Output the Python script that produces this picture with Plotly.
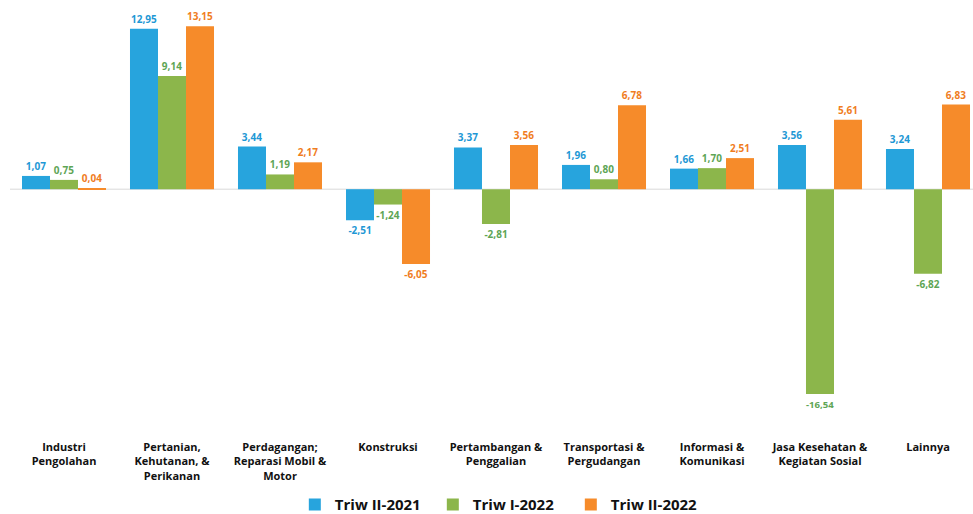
import plotly.graph_objects as go

categories = [
    "Industri<br>Pengolahan",
    "Pertanian,<br>Kehutanan, &<br>Perikanan",
    "Perdagangan;<br>Reparasi Mobil &<br>Motor",
    "Konstruksi",
    "Pertambangan &<br>Penggalian",
    "Transportasi &<br>Pergudangan",
    "Informasi &<br>Komunikasi",
    "Jasa Kesehatan &<br>Kegiatan Sosial",
    "Lainnya",
]
triw_ii_2021 = [1.07, 12.95, 3.44, -2.51, 3.37, 1.96, 1.66, 3.56, 3.24]
triw_i_2022 = [0.75, 9.14, 1.19, -1.24, -2.81, 0.80, 1.70, -16.54, -6.82]
triw_ii_2022 = [0.04, 13.15, 2.17, -6.05, 3.56, 6.78, 2.51, 5.61, 6.83]

series = [
    ("Triw II-2021", triw_ii_2021, "#27A4DD", "#1E98D5"),
    ("Triw I-2022", triw_i_2022, "#8CB64B", "#5EA555"),
    ("Triw II-2022", triw_ii_2022, "#F68B2A", "#F07D1E"),
]

FONT = "Open Sans"


def fmt(v):
    return f"{v:.2f}".replace(".", ",")


x_idx = list(range(len(categories)))

fig = go.Figure()
for name, vals, bar_col, txt_col in series:
    fig.add_trace(go.Bar(
        name=name,
        x=x_idx,
        y=vals,
        marker=dict(color=bar_col, line=dict(width=0)),
        text=[fmt(v) for v in vals],
        textposition="outside",
        textfont=dict(family=FONT, size=10, color=txt_col, weight=700),
        cliponaxis=False,
    ))

# zero baseline
fig.add_shape(type="line", xref="x", yref="y", x0=-0.5, x1=8.6, y0=0, y1=0,
              line=dict(color="#D9D9D9", width=1), layer="below")

fig.update_layout(
    width=973,
    height=514,
    margin=dict(l=0, r=0, t=0, b=84, autoexpand=False),
    paper_bgcolor="white",
    plot_bgcolor="white",
    barmode="group",
    bargap=0.222,
    bargroupgap=0,
    showlegend=True,
    legend=dict(
        orientation="h",
        x=0.303, xanchor="left",
        yref="container",
        y=0.018, yanchor="middle",
        font=dict(family=FONT, size=15, color="#111111", weight=700),
        entrywidth=93,
        entrywidthmode="pixels",
        traceorder="normal",
    ),
    font=dict(family=FONT),
)

fig.update_xaxes(
    range=[-0.5926, 8.4167],
    tickmode="array",
    tickvals=x_idx,
    ticktext=categories,
    tickfont=dict(family=FONT, size=11, color="#111111", weight=700),
    showgrid=False,
    zeroline=False,
    showline=False,
    ticks="",
    ticklabelstandoff=9,
)
fig.update_yaxes(
    range=[-19.45, 15.28],
    showgrid=False,
    zeroline=False,
    showticklabels=False,
    showline=False,
)

fig.write_html("out.html")
